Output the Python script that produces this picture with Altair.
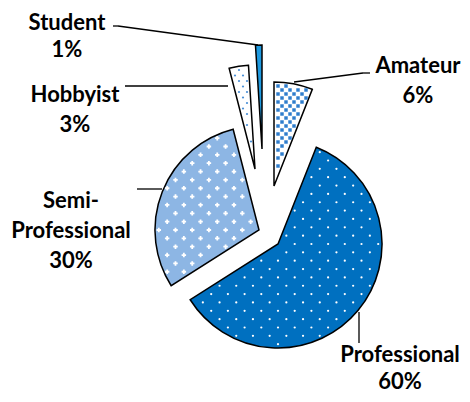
import math
import altair as alt
import pandas as pd

# ---- data ----
categories = ["Amateur", "Professional", "Semi-Professional", "Hobbyist", "Student"]
shares = [6, 60, 30, 3, 1]
fill_colors = ["#FFFFFF", "#0070C0", "#8DB6E4", "#FFFFFF", "#1F9AE0"]

df = pd.DataFrame({"category": categories, "share": shares, "order": list(range(len(categories)))})
df["label"] = [c.replace("-", "-~") + "~" + f"{s}%" for c, s in zip(categories, shares)]

# ---- layout (page pixels) ----
OX, OY = 8, 8
RADIUS = 104
apex = {
    "Amateur": (274, 186),
    "Professional": (278, 244),
    "Semi-Professional": (259, 230),
    "Hobbyist": (255, 169),
    "Student": (262, 149),
}
label_pos = {  # centre x, baseline of first line, line height
    "Amateur": (418, 73, 30),
    "Professional": (400, 362, 27),
    "Semi-Professional": (71, 208, 30),
    "Hobbyist": (75, 102, 30),
    "Student": (67, 30, 27),
}
leader_segments = [
    (113, 26, 118, 26), (118, 26, 258, 45),
    (125, 86, 228, 86),
    (294, 82, 363, 73), (363, 73, 370, 73),
    (137, 189, 162, 189),
    (359, 312, 359, 343),
]
# texture styles: (column spacing, row spacing, mark, shape, size, colour, margin)
textures = {
    "Amateur": (8.0, 4.0, "square", None, 12, "#2F7DCC", 2.5),
    "Professional": (16.7, 8.35, "circle", None, 5, "#FFFFFF", 3),
    "Semi-Professional": (16.7, 8.35, "point", "cross", 20, "#FFFFFF", 3),
    "Hobbyist": (8.0, 5.5, "circle", None, 5, "#4A8FD6", 2),
}

base = alt.Chart(df).transform_joinaggregate(total="sum(share)").transform_window(
    cum="sum(share)", sort=[alt.SortField("order")], frame=[None, 0]
).transform_calculate(
    start="datum.cum - datum.share",
    a0="(datum.cum - datum.share) / datum.total * 2 * PI",
    a1="datum.cum / datum.total * 2 * PI",
)

theta_scale = alt.Scale(domain=[0, 100], range=[0, 2 * math.pi])
color_scale = alt.Scale(domain=categories, range=fill_colors)

arc_layers, tex_layers, txt_layers = [], [], []
for cat in categories:
    ax, ay = apex[cat]
    cx, cy = ax - OX, ay - OY
    sub = base.transform_filter(alt.datum.category == cat)
    arc = sub.mark_arc(
        x=cx, y=cy, outerRadius=RADIUS,
        stroke="black", strokeWidth=1.5, strokeJoin="miter",
    ).encode(
        theta=alt.Theta("start:Q", scale=theta_scale, stack=None),
        theta2="cum:Q",
        fill=alt.Fill("category:N", scale=color_scale, legend=None),
    )
    arc_layers.append(arc)

    if cat in textures:
        sx, sy, mk, shape, size, col, m = textures[cat]
        nx = int(RADIUS / sx) + 2
        ny = int(RADIUS / sy) + 2
        tex = sub.transform_calculate(
            ix=f"sequence({-nx}, {nx + 1})"
        ).transform_flatten(["ix"]).transform_calculate(
            iy=f"sequence({-ny}, {ny + 1})"
        ).transform_flatten(["iy"]).transform_calculate(
            px=f"datum.ix * {sx} + (abs(datum.iy) % 2) * {sx / 2}",
            py=f"datum.iy * {sy}",
        ).transform_calculate(
            r="sqrt(datum.px * datum.px + datum.py * datum.py)",
            ang="(atan2(datum.px, -datum.py) + 2 * PI) % (2 * PI)",
        ).transform_filter(
            f"datum.r < {RADIUS - m} && datum.r > {m} && datum.ang > datum.a0 && datum.ang < datum.a1"
            f" && datum.r * sin(min(datum.ang - datum.a0, PI / 2)) > {m}"
            f" && datum.r * sin(min(datum.a1 - datum.ang, PI / 2)) > {m}"
        ).transform_calculate(
            gx=f"{cx} + datum.px", gy=f"{cy} + datum.py"
        )
        if mk == "square":
            t = tex.mark_square(size=size, color=col, opacity=1)
        elif mk == "circle":
            t = tex.mark_circle(size=size, color=col, opacity=1)
        else:
            t = tex.mark_point(shape=shape, size=size, color=col, filled=True, opacity=1)
        t = t.encode(x=alt.X("gx:Q", scale=None), y=alt.Y("gy:Q", scale=None))
        tex_layers.append(t)

    lx, ly, lh = label_pos[cat]
    txt = sub.mark_text(
        x=lx - OX, y=ly - OY, align="center", baseline="alphabetic",
        lineBreak="~", lineHeight=lh, font="Lato", fontWeight="bold",
        fontSize=22, color="black",
    ).encode(text="label:N")
    txt_layers.append(txt)

seg_df = pd.DataFrame(
    [{"x": a - OX, "y": b - OY, "x2": c - OX, "y2": d - OY} for a, b, c, d in leader_segments]
)
leaders = alt.Chart(seg_df).mark_rule(color="black", strokeWidth=1.3).encode(
    x=alt.X("x:Q", scale=None), y=alt.Y("y:Q", scale=None),
    x2="x2:Q", y2="y2:Q",
)

chart = alt.layer(*arc_layers, *tex_layers, *txt_layers, leaders).properties(
    width=454, height=386, autosize=alt.AutoSizeParams(type="none"), padding=0,
).configure_view(stroke=None)

chart.save("out.html", embed_options={"renderer": "svg", "actions": False})
